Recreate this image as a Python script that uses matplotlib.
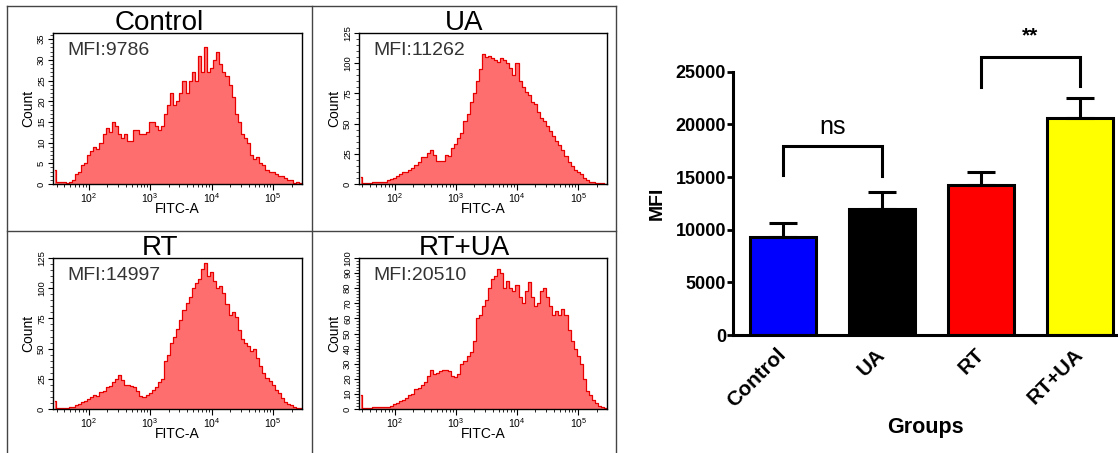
import numpy as np
import matplotlib.pyplot as plt
from matplotlib.lines import Line2D
from matplotlib.ticker import MultipleLocator, LogLocator, LogFormatterMathtext, NullFormatter

plt.rcParams['font.family'] = ['Liberation Sans', 'DejaVu Sans']
plt.rcParams['mathtext.fontset'] = 'custom'
plt.rcParams['mathtext.rm'] = 'Liberation Sans'
plt.rcParams['mathtext.it'] = 'Liberation Sans:italic'
plt.rcParams['mathtext.bf'] = 'Liberation Sans:bold'

# ---- flow cytometry histograms (counts, 0.05 decade bins)
fitc_log = np.round(np.arange(1.45, 5.451, 0.05), 2)

control_counts = [3.5, 0.5, 0.5, 0.5, 0.3, 0.5, 1, 2.5, 3, 4.5,
                  5, 7, 8, 9, 8.5, 10, 12, 13.5, 12.5, 15,
                  14, 12, 11, 12, 10.5, 10.5, 13, 13, 12, 12,
                  12.5, 15, 15, 14, 13, 14, 17, 19, 22, 19,
                  20, 22, 25, 22, 25, 27, 25, 31, 27, 33,
                  27, 28, 30, 32, 29, 27, 26, 24, 21, 17,
                  15, 12, 11, 10, 7, 6, 6.5, 5, 4.5, 3.5,
                  3, 3, 2.5, 2, 2, 1.5, 1, 1, 0.3, 0.5,
                  0.3]
ua_counts = [6, 1, 1, 1, 1.5, 1.5, 1.5, 2, 2, 3,
             4, 5, 7, 8, 10, 10, 12, 13, 16, 18,
             22, 22, 26, 28, 24, 19, 19, 19, 24, 23,
             30, 33, 38, 42, 52, 58, 68, 75, 85, 95,
             108, 105, 106, 104, 103, 101, 104, 103, 100, 96,
             90, 100, 85, 80, 76, 74, 68, 66, 60, 55,
             52, 48, 44, 40, 36, 32, 28, 23, 18, 15,
             12, 10, 8, 5, 3, 2, 1.5, 1, 1, 0.5,
             0.3]
rt_counts = [7, 1, 1, 1, 1, 1.5, 2, 3, 4, 6,
             7, 8, 10, 12, 11, 14, 15, 18, 19, 22,
             25, 28, 24, 20, 20, 19, 18, 15, 11, 10,
             12, 13, 16, 18, 22, 25, 40, 45, 55, 60,
             66, 74, 82, 88, 93, 100, 104, 108, 116, 121,
             110, 113, 106, 100, 102, 96, 87, 78, 80, 76,
             65, 58, 55, 52, 48, 50, 42, 36, 30, 26,
             23, 20, 16, 13, 9, 6, 4, 3, 1.5, 0.8,
             0.5]
rtua_counts = [9, 0.5, 0.5, 0.5, 1, 1, 1, 1.5, 1.5, 1.5,
               2, 3, 4, 5, 6, 7, 9, 10, 13, 14,
               16, 18, 22, 26, 23, 24, 25, 26, 26, 25,
               22, 21, 23, 30, 32, 35, 38, 45, 60, 62,
               68, 72, 80, 86, 88, 93, 90, 80, 85, 80,
               78, 82, 74, 70, 78, 84, 74, 68, 70, 78,
               80, 74, 68, 62, 65, 62, 66, 62, 52, 45,
               40, 35, 30, 20, 12, 9, 6, 4, 2, 1.5,
               0.5]

hist_titles = ['Control', 'UA', 'RT', 'RT+UA']
hist_mfi = ['MFI:9786', 'MFI:11262', 'MFI:14997', 'MFI:20510']
hist_counts = [control_counts, ua_counts, rt_counts, rtua_counts]
hist_ymax = [36.5, 125, 125, 100]
hist_ymajor = [5, 25, 25, 10]
hist_yminor = [1, 5, 5, 2]

# ---- bar chart
groups = ['Control', 'UA', 'RT', 'RT+UA']
mfi_mean = [9340, 11960, 14240, 20630]
mfi_sem = [1260, 1580, 1270, 1840]
bar_colors = ['#0000FF', '#000000', '#FF0000', '#FFFF00']

W, H = 1118, 453
fig = plt.figure(figsize=(W / 100, H / 100), dpi=100)


def px_axes(x0, y0, x1, y1):
    return fig.add_axes([x0 / W, 1 - y1 / H, (x1 - x0) / W, (y1 - y0) / H])


# panel grid lines
for xs, ys in [([7, 616], [6, 6]), ([7, 616], [231, 231]),
               ([7, 7], [6, 453]), ([312, 312], [6, 453]), ([616, 616], [6, 453])]:
    fig.add_artist(Line2D([x / W for x in xs], [1 - y / H for y in ys],
                          color='#444444', lw=1.0))

cells = [(7, 6, 312, 231), (312, 6, 616, 231), (7, 231, 312, 453), (312, 231, 616, 453)]
boxes = [(53, 33, 302, 184), (359, 33, 607, 184), (53, 258, 302, 409), (359, 258, 607, 409)]

x = 10 ** fitc_log
for i in range(4):
    bx0, by0, bx1, by1 = boxes[i]
    cx0, cy0, cx1, cy1 = cells[i]
    ax = px_axes(bx0, by0, bx1, by1)
    ax.fill_between(x, hist_counts[i], step='mid', color='#FF6E6E', lw=0)
    ax.step(x, hist_counts[i], where='mid', color='#E80000', lw=0.9)
    ax.set_xscale('log')
    ax.set_xlim(10 ** 1.42, 10 ** 5.47)
    ax.set_ylim(0, hist_ymax[i])
    ax.xaxis.set_major_locator(LogLocator(base=10, numticks=10))
    ax.xaxis.set_minor_locator(LogLocator(base=10, subs=np.arange(2, 10), numticks=10))
    ax.xaxis.set_major_formatter(LogFormatterMathtext())
    ax.xaxis.set_minor_formatter(NullFormatter())
    ax.yaxis.set_major_locator(MultipleLocator(hist_ymajor[i]))
    ax.yaxis.set_minor_locator(MultipleLocator(hist_yminor[i]))
    ax.tick_params(axis='x', which='major', length=4, width=0.8, pad=1.5, labelsize=7.5)
    ax.tick_params(axis='x', which='minor', length=2.5, width=0.6)
    ax.tick_params(axis='y', which='major', length=3.5, width=0.8, pad=1.5, labelsize=6.8)
    ax.tick_params(axis='y', which='minor', length=2, width=0.5)
    for lbl in ax.get_yticklabels():
        lbl.set_rotation(90)
        lbl.set_va('center')
    for s in ax.spines.values():
        s.set_linewidth(1.0)
    ax.text(14 / (bx1 - bx0), 1 - 22 / (by1 - by0), hist_mfi[i], transform=ax.transAxes,
            fontsize=14, color='#333333', va='baseline', ha='left')
    fig.text((cx0 + cx1) / 2 / W, 1 - (by0 - 3) / H, hist_titles[i], fontsize=20,
             ha='center', va='baseline')
    fig.text((bx0 - 25) / W, 1 - (by0 + by1) / 2 / H, 'Count', rotation=90,
             fontsize=10, ha='center', va='center')
    fig.text((bx0 + bx1) / 2 / W, 1 - (by1 + 25) / H, 'FITC-A',
             fontsize=10, ha='center', va='center')

# ---- bar chart
axb = px_axes(733, 71.7, 1117, 335)
xpos = np.arange(len(groups))
axb.bar(xpos, mfi_mean, width=0.67, color=bar_colors, edgecolor='black',
        linewidth=2.2, zorder=2)
axb.errorbar(xpos, mfi_mean, yerr=[[0] * len(groups), mfi_sem], fmt='none',
             ecolor='black', elinewidth=2.2, capsize=10, capthick=2.2, zorder=3)
axb.set_xlim(-0.505, 3.374)
axb.set_ylim(0, 25000)
axb.yaxis.set_major_locator(MultipleLocator(5000))
axb.spines['top'].set_visible(False)
axb.spines['right'].set_visible(False)
axb.spines['left'].set_linewidth(2.2)
axb.spines['bottom'].set_linewidth(2.2)
axb.tick_params(axis='y', length=4, width=2, pad=1, labelsize=13)
axb.tick_params(axis='x', direction='in', length=5, width=2, pad=12)
for lbl in axb.get_yticklabels():
    lbl.set_fontweight('bold')
axb.set_xticks(xpos)
axb.set_xticklabels(groups, rotation=45, ha='right', va='center',
                    rotation_mode='anchor', fontweight='bold', fontsize=15)
fig.text(657 / W, 1 - 203 / H, 'MFI', rotation=90, fontsize=14, fontweight='bold',
         ha='center', va='center')
fig.text(925 / W, 1 - 428 / H, 'Groups', fontsize=15.5, fontweight='bold',
         ha='center', va='center')

# significance brackets
sig_pairs = [(0, 1), (2, 3)]
sig_top = [17900, 26360]
sig_left = [15150, 23500]
sig_right = [15050, 23650]
sig_label = ['ns', '**']
sig_label_y = [19750, 28400]
for (a, b), top, yl, yr, lab, ly in zip(sig_pairs, sig_top, sig_left, sig_right,
                                         sig_label, sig_label_y):
    axb.plot([a, a, b, b], [yl, top, top, yr], color='black', lw=2.2,
             clip_on=False, solid_joinstyle='miter', zorder=4)
    if lab == 'ns':
        axb.text((a + b) / 2, ly, lab, ha='center', va='center', fontsize=18)
    else:
        axb.text((a + b) / 2, ly, lab, ha='center', va='center', fontsize=15,
                 fontweight='bold')

fig.savefig('out.png', dpi=100)
